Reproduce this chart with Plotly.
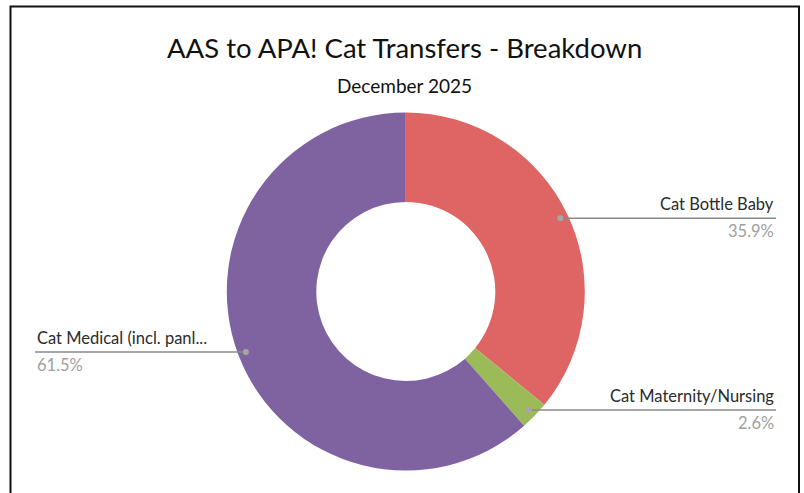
import math
import plotly.graph_objects as go

# ---- data ----
categories = ["Cat Bottle Baby", "Cat Maternity/Nursing", "Cat Medical (incl. panl..."]
percentages = [35.9, 2.6, 61.5]
colors = ["#DF6565", "#9BBB59", "#7F63A1"]
title_text = "AAS to APA! Cat Transfers - Breakdown"
subtitle_text = "December 2025"

W, H = 804, 493
CX, CY, R = 405.8, 291.5, 179.0   # pie centre / radius in px
HOLE = 0.5
DOT_R = 0.955 * R


def px(x):
    return x / W


def py(y):
    return 1 - y / H


fig = go.Figure()
fig.add_trace(go.Pie(
    labels=categories,
    values=percentages,
    hole=HOLE,
    sort=False,
    direction="clockwise",
    rotation=0,
    marker=dict(colors=colors, line=dict(width=0)),
    textinfo="none",
    hoverinfo="skip",
    showlegend=False,
    domain=dict(x=[px(CX - R), px(CX + R)], y=[py(CY + R), py(CY - R)]),
))

shapes = []
annotations = []
total = sum(percentages)
cum = 0.0
for name, val in zip(categories, percentages):
    mid = (cum + val / 2) / total * 2 * math.pi
    cum += val
    dx = CX + DOT_R * math.sin(mid)
    dy = CY - DOT_R * math.cos(mid)
    right = math.sin(mid) >= 0
    if right:
        x_end = 776
        x0, x1 = dx, x_end
        anchor = "right"
    else:
        x_end = 35
        x0, x1 = x_end, dx
        anchor = "left"
    shapes.append(dict(type="line", xref="paper", yref="paper",
                       x0=px(x0), x1=px(x1), y0=py(dy), y1=py(dy),
                       line=dict(color="#8A8A8A", width=1.5)))
    shapes.append(dict(type="circle", xref="paper", yref="paper",
                       x0=px(dx - 3), x1=px(dx + 3), y0=py(dy + 3), y1=py(dy - 3),
                       fillcolor="#A6A6A6", line=dict(width=0)))
    annotations.append(dict(x=px(x_end), y=py(dy - 2), xref="paper", yref="paper",
                            text=name, showarrow=False, xanchor=anchor, yanchor="bottom",
                            font=dict(family="Lato", size=16.5, color="#2B2B2B")))
    annotations.append(dict(x=px(x_end), y=py(dy + 1), xref="paper", yref="paper",
                            text=f"{val:.1f}%", showarrow=False, xanchor=anchor, yanchor="top",
                            font=dict(family="Lato", size=16.5, color="#A0A0A0")))

# frame
shapes.append(dict(type="rect", xref="paper", yref="paper",
                   x0=px(10.5), x1=px(799), y0=py(560), y1=py(6.5),
                   line=dict(color="#111111", width=2)))

annotations.append(dict(x=px(404), y=py(47), xref="paper", yref="paper",
                        text=title_text, showarrow=False, xanchor="center", yanchor="middle",
                        font=dict(family="Lato", size=27.5, color="#111111")))
annotations.append(dict(x=px(405), y=py(85), xref="paper", yref="paper",
                        text=subtitle_text, showarrow=False, xanchor="center", yanchor="middle",
                        font=dict(family="Lato", size=19, color="#111111")))

fig.update_layout(
    width=W, height=H,
    margin=dict(l=0, r=0, t=0, b=0),
    paper_bgcolor="white", plot_bgcolor="white",
    shapes=shapes, annotations=annotations,
)

fig.write_html(
    "out.html",
    config={"displayModeBar": False},
    post_script="document.body.style.margin='0';document.body.style.overflow='hidden';",
)
